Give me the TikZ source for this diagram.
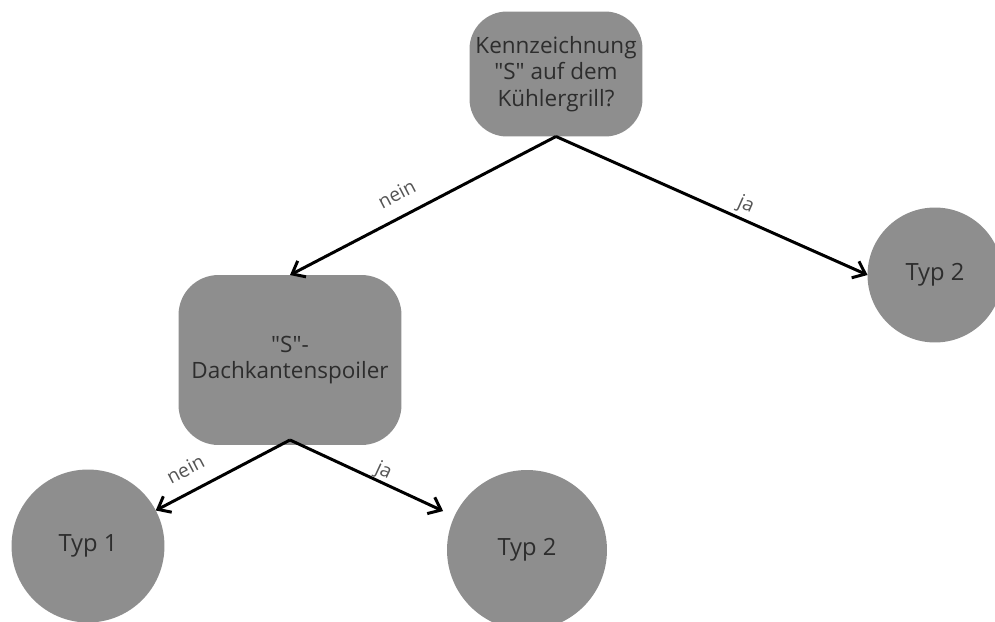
\documentclass[tikz,border=0pt]{standalone}
\usepackage{fontspec}
\setmainfont{Open Sans}
\usepackage{tikz}
\usetikzlibrary{positioning}
\usetikzlibrary{arrows.meta}

\definecolor{boxgray}{RGB}{142,142,142}
\definecolor{textgray}{RGB}{45,45,45}
\definecolor{labelgray}{RGB}{85,85,85}

\begin{document}
\begin{tikzpicture}[
x=0.02cm, y=-0.02cm,
questionnode/.style={
    rectangle,
    rounded corners=0.75cm,
    fill=boxgray,
    text=textgray,
    align=center,
    font=\fontsize{12.8pt}{15pt}\selectfont,
    inner sep=0pt, % No inner spacing
    outer sep=0pt, % No outer spacing
},
typnode/.style={
    circle,
    fill=boxgray,
    text=textgray,
    font=\fontsize{13.5pt}{15pt}\selectfont,
    inner sep=0pt,
    outer sep=0pt,
},
edgelabel/.style={
    text=labelgray,
    font=\fontsize{11pt}{13pt}\selectfont,
    inner sep=2pt,
},
arrow/.style={
    -{Straight Barb[length=2.2mm, width=3.6mm]},
    line width=1.7pt,
    black,
},
]

\useasboundingbox (0,0) rectangle (995,622);

\node[questionnode, minimum width=3.46cm, minimum height=2.5cm] (Q1) at (556,74) {Kennzeichnung\\\textquotedbl S\textquotedbl{} auf dem\\Kühlergrill?};
\node[questionnode, minimum width=4.46cm, minimum height=3.4cm, rounded corners=0.8cm] (Q2) at (290,360) {\textquotedbl S\textquotedbl -\\Dachkantenspoiler};

\node[typnode, minimum size=2.7cm] (T2-1) at (935,275) {Typ 2};
\node[typnode, minimum size=3.06cm] (T1) at (88,546) {Typ 1};
\node[typnode, minimum size=3.2cm] (T2-2) at (527,550) {Typ 2};

\draw[arrow] (Q1.south) -- node[edgelabel, pos=0.56, above=6pt, sloped] {nein} (Q2.north);
\draw[arrow] (Q1.south) -- node[edgelabel, pos=0.59, above, sloped] {ja} (T2-1.west);
\draw[arrow] ([yshift=0.1cm]Q2.south) -- node[edgelabel, pos=0.7, above=6pt, sloped] {nein} (T1);
\draw[arrow, shorten >=0.25cm] ([yshift=0.1cm]Q2.south) -- node[edgelabel, pos=0.54, above, sloped, inner sep=0pt] {ja} (T2-2);

\end{tikzpicture}
\end{document}
